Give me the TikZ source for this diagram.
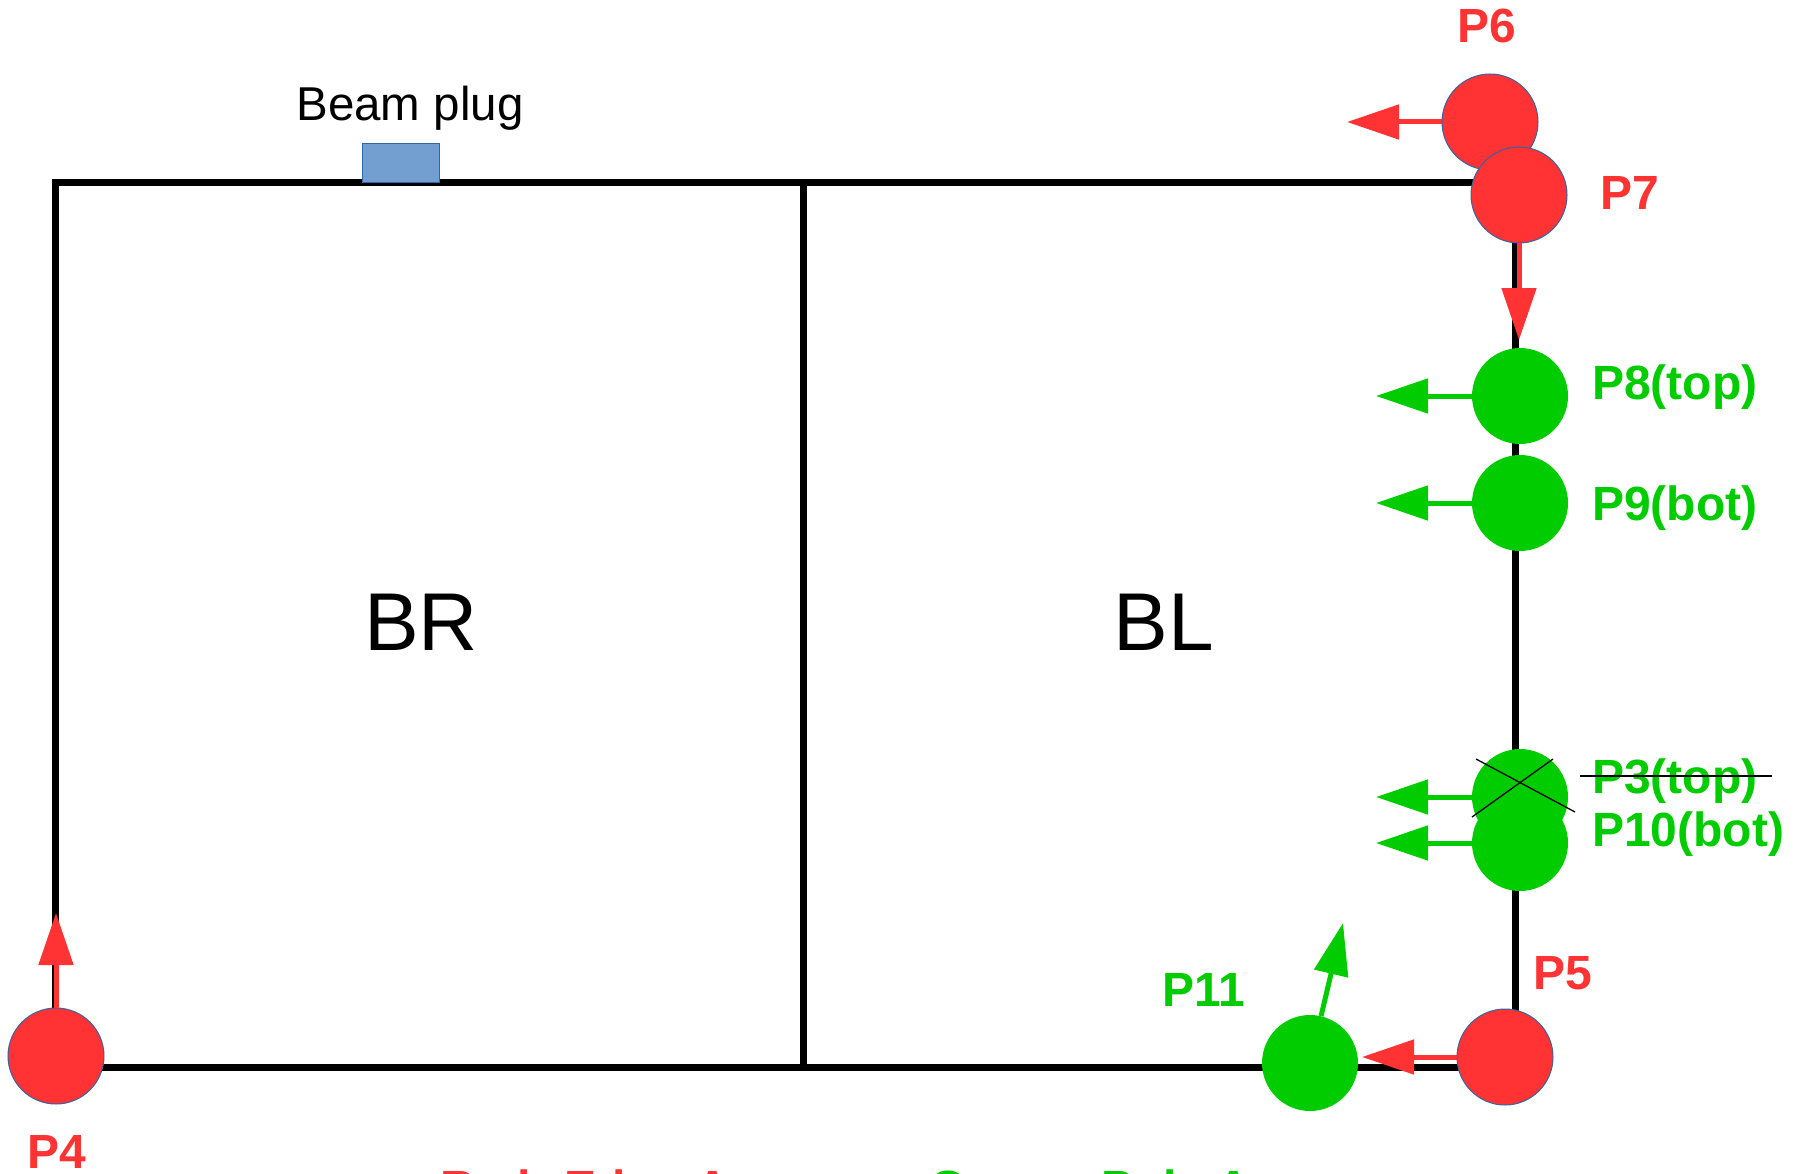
\documentclass[tikz,border=0pt]{standalone}
\usepackage{fontspec}
\setmainfont{Liberation Sans}
\usetikzlibrary{arrows.meta}
\definecolor{pred}{HTML}{FF3333}
\definecolor{pgreen}{HTML}{00CC00}
\definecolor{plugfill}{HTML}{729FCF}
\definecolor{plugdraw}{HTML}{3465A4}
\begin{document}
\begin{tikzpicture}[x=1pt,y=-1pt,
  frame/.style={draw=black, line width=7pt, line join=miter},
  redpt/.style={circle, fill=pred, draw=plugdraw, line width=1pt, minimum size=96pt, inner sep=0pt},
  greenpt/.style={circle, fill=pgreen, minimum size=96pt, inner sep=0pt},
  redarr/.style={draw=pred, line width=5pt, -{Triangle[length=52pt,width=34pt]}},
  greenarr/.style={draw=pgreen, line width=5pt, -{Triangle[length=52pt,width=34pt]}},
  lab/.style={font=\fontsize{48}{54}\selectfont\bfseries, inner sep=0pt},
  redlab/.style={lab, text=pred},
  greenlab/.style={lab, text=pgreen},
  big/.style={font=\fontsize{82}{90}\selectfont, inner sep=0pt},
  thinx/.style={draw=black, line width=1.3pt}
]
\useasboundingbox (0,0) rectangle (1806,1174);
\clip (0,0) rectangle (1806,1174);

% frame
\coordinate (tl) at (55,183);
\coordinate (tr) at (1515,183);
\coordinate (br) at (1515,1067);
\coordinate (bl) at (55,1067);
\coordinate (mt) at (803,183);
\coordinate (mb) at (803,1067);
\draw[frame] (tl) -- (tr) -- (br) -- (bl) -- cycle;
\draw[frame] (mt) -- (mb);

% region labels
\node[big] (brl) at (421,622) {BR};
\node[big] (bll) at (1164,622) {BL};

% beam plug
\node[font=\fontsize{47.5}{54}\selectfont, inner sep=0pt, anchor=base] (plugl) at (410,121) {Beam plug};
\node[draw=plugdraw, fill=plugfill, line width=1pt, minimum width=77pt, minimum height=39pt, inner sep=0pt] (plug) at (400.5,163.5) {};

% points
\node[redpt] (p6) at (1490,122) {};
\node[redpt] (p7) at (1519,195) {};
\node[greenpt] (p8) at (1520,396) {};
\node[greenpt] (p9) at (1520,503) {};
\node[greenpt] (p3) at (1520,797) {};
\node[greenpt] (p10) at (1520,843) {};
\node[greenpt] (p11) at (1310,1063) {};
\node[redpt] (p5) at (1505,1057) {};
\node[redpt] (p4) at (56,1056) {};

% arrow tips
\coordinate (t6) at (1347,122);
\coordinate (t7) at (1519,340);
\coordinate (t8) at (1376,396);
\coordinate (t9) at (1376,503);
\coordinate (t3) at (1376,797);
\coordinate (t10) at (1376,843);
\coordinate (t11) at (1343,923);
\coordinate (t5) at (1362,1057);
\coordinate (t4) at (56,913);

\draw[redarr] (p6.west) -- (t6);
\draw[redarr] (p7.south) -- (t7);
\draw[greenarr] (p8.west) -- (t8);
\draw[greenarr] (p9.west) -- (t9);
\draw[greenarr] (p3.west) -- (t3);
\draw[greenarr] (p10.west) -- (t10);
\draw[greenarr] (p11) -- (t11);
\draw[redarr] (p5.west) -- (t5);
\draw[redarr] (p4.north) -- (t4);

% cross on P3
\coordinate (xa) at (1476,759);
\coordinate (xb) at (1575,812);
\coordinate (xc) at (1472,817);
\coordinate (xd) at (1553,759);
\draw[thinx] (xa) -- (xb);
\draw[thinx] (xc) -- (xd);

% labels
\node[redlab, anchor=base] (l6) at (1487,43) {P6};
\node[redlab, anchor=base] (l7) at (1630,210) {P7};
\node[greenlab, anchor=base west] (l8) at (1592,399) {P8(top)};
\node[greenlab, anchor=base west] (l9) at (1592,520) {P9(bot)};
\node[greenlab, anchor=base west] (l3) at (1592,793) {P3(top)};
\node[greenlab, anchor=base west] (l10) at (1592,846) {P10(bot)};
\node[greenlab, anchor=base] (l11) at (1204,1006) {P11};
\node[redlab, anchor=base] (l5) at (1563,989) {P5};
\node[redlab, anchor=base] (l4) at (57,1168) {P4};

% strike-through of P3 label
\coordinate (sa) at (1580,776);
\coordinate (sb) at (1772,776);
\draw[thinx] (sa) -- (sb);

% legend (cut off at the bottom edge)
\node[redlab, anchor=base west] (legr) at (440,1204) {Red: Edge Arrows};
\node[greenlab, anchor=base west] (legg) at (929,1204) {Green: Pole Arrows};
\end{tikzpicture}
\end{document}
